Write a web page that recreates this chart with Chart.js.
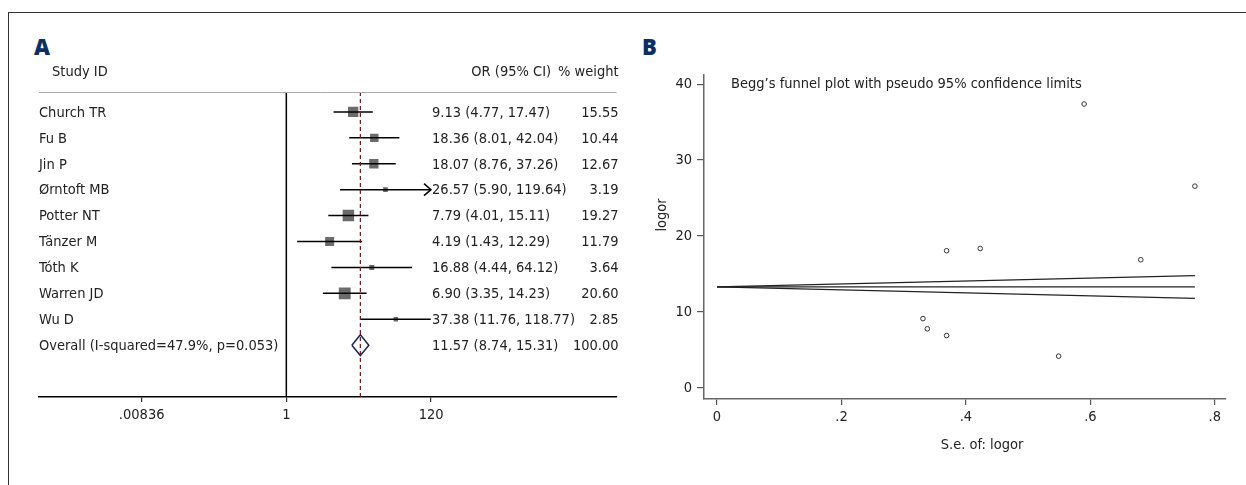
<!DOCTYPE html>
<html>
<head>
<meta charset="utf-8">
<script src="https://cdn.jsdelivr.net/npm/chart.js@4.4.1/dist/chart.umd.min.js"></script>
<style>
  body { margin: 0; background: #fff; width: 1246px; height: 485px; overflow: hidden; position: relative;
         font-family: 'DejaVu Sans Condensed', 'Liberation Sans Narrow', sans-serif; }
  .frame { position: absolute; left: 8px; top: 12px; width: 1250px; height: 480px;
           border-left: 1.5px solid #333; border-top: 1.5px solid #333; }
  .panel-label { position: absolute; font-family: 'Open Sans', 'DejaVu Sans', sans-serif; font-weight: 800;
                 font-size: 22px; line-height: 22px; color: #0b2e63; }
  #forestBox { position: absolute; left: 0; top: 0; width: 625px; height: 485px; }
  #funnelBox { position: absolute; left: 625px; top: 0; width: 621px; height: 485px; }
</style>
</head>
<body>
<div class="frame"></div>
<div class="panel-label" style="left:34px;top:35px;">A</div>
<div class="panel-label" style="left:642px;top:35px;">B</div>
<div id="forestBox"><canvas id="forestChart" width="625" height="485"></canvas></div>
<div id="funnelBox"><canvas id="funnelChart" width="621" height="485"></canvas></div>

<script>
// ---- Panel A data (forest plot) ----
const studies = ['Church TR', 'Fu B', 'Jin P', 'Ørntoft MB', 'Potter NT', 'Tänzer M', 'Tóth K', 'Warren JD', 'Wu D'];
const orValues = [9.13, 18.36, 18.07, 26.57, 7.79, 4.19, 16.88, 6.90, 37.38];
const ciLow = [4.77, 8.01, 8.76, 5.90, 4.01, 1.43, 4.44, 3.35, 11.76];
const ciHigh = [17.47, 42.04, 37.26, 119.64, 15.11, 12.29, 64.12, 14.23, 118.77];
const weights = [15.55, 10.44, 12.67, 3.19, 19.27, 11.79, 3.64, 20.60, 2.85];
const overallLabel = 'Overall (I-squared=47.9%, p=0.053)';
const overallOR = [11.57, 8.74, 15.31];   // estimate, lower, upper
const overallWeight = 100.00;
const forestTicks = [0.00836, 1, 120];
const forestTickLabels = ['.00836', '1', '120'];

// ---- Panel B data (Begg's funnel plot) ----
const funnelSe = [0.331, 0.423, 0.369, 0.768, 0.338, 0.549, 0.681, 0.369, 0.590];
const funnelLogor = [9.13, 18.36, 18.07, 26.57, 7.79, 4.19, 16.88, 6.90, 37.38];
const limitSe = [0, 0.768];
const limitMid = [13.3, 13.3];
const limitUpper = [13.3, 14.8];
const limitLower = [13.3, 11.8];
const funnelXTicks = [0, 0.2, 0.4, 0.6, 0.8];
const funnelXLabels = ['0', '.2', '.4', '.6', '.8'];
const funnelYTicks = [0, 10, 20, 30, 40];

const FONT = "'DejaVu Sans Condensed', 'Liberation Sans Narrow', sans-serif";
const FSIZE = 14.5;
const TEXT = '#222';
Chart.defaults.font.family = FONT;
Chart.defaults.color = TEXT;

// ---------- Forest plot ----------
const yTop = 0.23, yBottom = 12.0;
const overallRow = studies.length + 1;

const forestSets = [];
forestSets.push({ data: [{ x: 1, y: yTop }, { x: 1, y: yBottom }], showLine: true,
  borderColor: '#000', borderWidth: 1.5, pointRadius: 0 });
forestSets.push({ data: [{ x: overallOR[0], y: yTop }, { x: overallOR[0], y: yBottom }], showLine: true,
  borderColor: '#6e1414', borderWidth: 1.2, borderDash: [4, 3], pointRadius: 0 });
studies.forEach((s, i) => {
  forestSets.push({ data: [{ x: ciLow[i], y: i + 1 }, { x: ciHigh[i], y: i + 1 }], showLine: true,
    borderColor: '#000', borderWidth: 1.5, pointRadius: 0 });
});
forestSets.push({
  data: studies.map((s, i) => ({ x: orValues[i], y: i + 1 })),
  pointStyle: 'rect', backgroundColor: '#6b6b6b', borderWidth: 0,
  pointRadius: ctx => Math.sqrt(weights[ctx.dataIndex]) * 1.85
});
forestSets.push({
  data: studies.map((s, i) => ({ x: orValues[i], y: i + 1 })),
  pointStyle: 'circle', backgroundColor: '#000', borderWidth: 0, pointRadius: 1.6
});
forestSets.push({
  data: [{ x: overallOR[1], y: overallRow }, { x: overallOR[0], y: overallRow - 0.4 },
         { x: overallOR[2], y: overallRow }, { x: overallOR[0], y: overallRow + 0.4 },
         { x: overallOR[1], y: overallRow }],
  showLine: true, borderColor: '#1a2650', borderWidth: 1.5, pointRadius: 0, tension: 0
});

const forestText = {
  id: 'forestText',
  afterDatasetsDraw(chart) {
    const { ctx, chartArea, scales: { x, y } } = chart;
    ctx.save();
    // header separator
    ctx.strokeStyle = '#aaa';
    ctx.lineWidth = 1;
    ctx.beginPath();
    ctx.moveTo(chartArea.left, chartArea.top + 0.5);
    ctx.lineTo(chartArea.right, chartArea.top + 0.5);
    ctx.stroke();

    // arrow for the clipped interval
    const maxHigh = Math.max(...ciHigh);
    ctx.strokeStyle = '#000';
    ctx.lineWidth = 1.5;
    ciHigh.forEach((hi, i) => {
      if (hi !== maxHigh) return;
      const px = x.getPixelForValue(hi), py = y.getPixelForValue(i + 1);
      ctx.beginPath();
      ctx.moveTo(px - 7, py - 6);
      ctx.lineTo(px, py);
      ctx.lineTo(px - 7, py + 6);
      ctx.stroke();
    });

    ctx.font = FSIZE + 'px ' + FONT;
    ctx.fillStyle = TEXT;
    ctx.textBaseline = 'middle';
    const textX = x.getPixelForValue(forestTicks[2]) + 1;
    const rows = studies.map((s, i) => [s, orValues[i], ciLow[i], ciHigh[i], weights[i], i + 1]);
    rows.push([overallLabel, overallOR[0], overallOR[1], overallOR[2], overallWeight, overallRow]);
    rows.forEach(([name, est, lo, hi, w, row]) => {
      const py = y.getPixelForValue(row) + 1;
      ctx.textAlign = 'left';
      ctx.fillText(name, chartArea.left, py);
      ctx.fillText(`${est.toFixed(2)} (${lo.toFixed(2)}, ${hi.toFixed(2)})`, textX, py);
      ctx.textAlign = 'right';
      ctx.fillText(w.toFixed(2), chartArea.right + 2, py);
    });
    // column headers
    const hy = chartArea.top - 20;
    ctx.textAlign = 'left';
    ctx.fillText('Study ID', chartArea.left + 13, hy);
    ctx.textAlign = 'right';
    const wHead = '% weight';
    ctx.fillText(wHead, chartArea.right + 2, hy);
    ctx.fillText('OR (95% CI)', chartArea.right + 2 - ctx.measureText(wHead).width - 7, hy);
    ctx.restore();
  }
};

new Chart(document.getElementById('forestChart'), {
  type: 'scatter',
  data: { datasets: forestSets },
  options: {
    responsive: false,
    animation: false,
    layout: { padding: { left: 39, right: 7, top: 92, bottom: 48 } },
    plugins: { legend: { display: false }, tooltip: { enabled: false } },
    scales: {
      x: {
        type: 'logarithmic',
        min: 0.00028, max: 55500,
        afterBuildTicks: axis => { axis.ticks = forestTicks.map(v => ({ value: v })); },
        afterFit: axis => { axis.height = 40; },
        ticks: {
          autoSkip: false, maxRotation: 0, padding: 5,
          font: { size: FSIZE }, color: TEXT,
          callback: (v, i) => forestTickLabels[i]
        },
        grid: { display: true, drawOnChartArea: false, drawTicks: true, tickLength: 5, color: '#333', lineWidth: 1.2 },
        border: { display: true, color: '#000', width: 1.5 }
      },
      y: {
        display: false,
        reverse: true,
        min: yTop, max: yBottom
      }
    }
  },
  plugins: [forestText]
});

// ---------- Funnel plot ----------
const funnelText = {
  id: 'funnelText',
  afterDraw(chart) {
    const { ctx, chartArea } = chart;
    ctx.save();
    ctx.fillStyle = TEXT;
    ctx.font = FSIZE + 'px ' + FONT;
    ctx.textBaseline = 'middle';
    ctx.textAlign = 'left';
    ctx.fillText('Begg\u2019s funnel plot with pseudo 95% confidence limits', chartArea.left + 27, 84);
    ctx.textAlign = 'center';
    ctx.fillText('S.e. of: logor', (chartArea.left + chartArea.right) / 2 + 17, 445);
    ctx.translate(37, 215);
    ctx.rotate(-Math.PI / 2);
    ctx.fillText('logor', 0, 0);
    ctx.restore();
  }
};

const lineStyle = { showLine: true, borderColor: '#222', borderWidth: 1.2, pointRadius: 0 };

new Chart(document.getElementById('funnelChart'), {
  type: 'scatter',
  data: {
    datasets: [
      { ...lineStyle, data: limitSe.map((s, i) => ({ x: s, y: limitMid[i] })) },
      { ...lineStyle, data: limitSe.map((s, i) => ({ x: s, y: limitUpper[i] })) },
      { ...lineStyle, data: limitSe.map((s, i) => ({ x: s, y: limitLower[i] })) },
      {
        data: funnelSe.map((s, i) => ({ x: s, y: funnelLogor[i] })),
        pointStyle: 'circle', pointRadius: 2.3, borderColor: '#333', borderWidth: 1,
        backgroundColor: '#fff'
      }
    ]
  },
  options: {
    responsive: false,
    animation: false,
    layout: { padding: { left: 0, right: 20, top: 75, bottom: 46 } },
    plugins: { legend: { display: false }, tooltip: { enabled: false } },
    scales: {
      x: {
        type: 'linear',
        min: -0.0209, max: 0.818,
        afterBuildTicks: axis => { axis.ticks = funnelXTicks.map(v => ({ value: v })); },
        afterFit: axis => { axis.height = 40; },
        ticks: {
          autoSkip: false, maxRotation: 0, padding: 4,
          font: { size: FSIZE }, color: TEXT,
          callback: (v, i) => funnelXLabels[i]
        },
        grid: { display: true, drawOnChartArea: false, drawTicks: true, tickLength: 6, color: '#555', lineWidth: 1.2 },
        border: { display: true, color: '#666', width: 1.5 }
      },
      y: {
        type: 'linear',
        min: -1.45, max: 41.2,
        afterBuildTicks: axis => { axis.ticks = funnelYTicks.map(v => ({ value: v })); },
        afterFit: axis => { axis.width = 79; },
        ticks: {
          autoSkip: false, padding: 5,
          font: { size: FSIZE }, color: TEXT
        },
        grid: { display: true, drawOnChartArea: false, drawTicks: true, tickLength: 7, color: '#555', lineWidth: 1.2 },
        border: { display: true, color: '#666', width: 1.5 }
      }
    }
  },
  plugins: [funnelText]
});
</script>
</body>
</html>
